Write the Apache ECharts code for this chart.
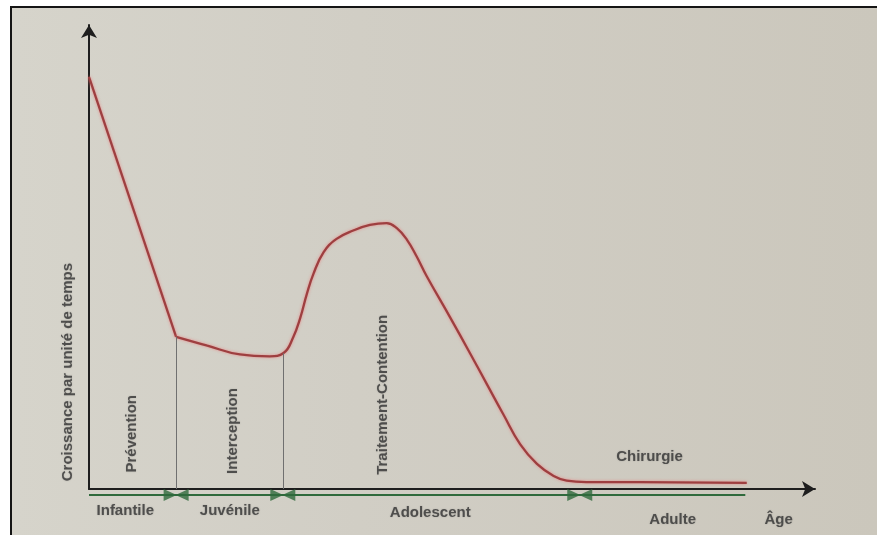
<!DOCTYPE html>
<html><head><meta charset="utf-8">
<script src="https://cdn.jsdelivr.net/npm/echarts@6/dist/echarts.min.js"></script>
<style>
html,body{margin:0;padding:0;background:#fff;width:877px;height:535px;overflow:hidden}
#frame{position:absolute;left:10px;top:6px;width:867px;height:529px;border-top:2px solid #151515;border-left:2px solid #151515;box-sizing:border-box;background:linear-gradient(90deg,#d6d4cb 0%,#d1cec5 40%,#cbc7bc 100%)}
#chart{width:865px;height:527px}
</style></head><body><div id="frame"><div id="chart"></div></div>
<script>
// Age (relative units along the x axis) and growth per unit of time
const ageX   = [0, 12.0, 16.3, 20.8, 24.9, 26.8, 28.1, 29.1, 30.0, 30.9, 32.3, 34.1, 36.4, 38.7, 41.0, 42.4, 43.8, 45.1, 46.5, 49.7, 52.5, 54.8, 57.1, 59.4, 61.7, 64.0, 65.8, 68.5, 71.8, 90.6];
const growth = [88.8, 32.8, 30.9, 29.0, 28.6, 29.3, 32.6, 36.9, 42.0, 46.3, 51.0, 53.9, 55.7, 56.9, 57.3, 56.2, 53.7, 50.2, 45.9, 37.1, 29.2, 22.6, 16.0, 9.6, 5.4, 2.8, 1.8, 1.5, 1.5, 1.3];
const stageNames = ['Infantile', 'Juvénile', 'Adolescent', 'Adulte'];
const treatmentNames = ['Prévention', 'Interception', 'Traitement-Contention', 'Chirurgie'];
const stageBoundaries = [12.0, 26.7, 67.6];
const yAxisTitle = 'Croissance par unité de temps';
const xAxisTitle = 'Âge';

function growthAt(x) {
  for (let i = 0; i < ageX.length - 1; i++) {
    if (x >= ageX[i] && x <= ageX[i + 1]) {
      const t = (x - ageX[i]) / (ageX[i + 1] - ageX[i]);
      return growth[i] + t * (growth[i + 1] - growth[i]);
    }
  }
  return 0;
}

const pts = ageX.map((x, i) => [x, growth[i]]);
const redStyle = { color: '#9e3f40', width: 2.3, shadowColor: 'rgba(235,125,125,0.85)', shadowBlur: 3 };
const textStyle = { color: '#363636', fontWeight: 'bold', fontSize: 15, fontFamily: 'Liberation Sans, Arial, sans-serif',
  textShadowColor: 'rgba(60,60,60,0.35)', textShadowBlur: 1.5 };
const stageLineY = -1.3;
const green = '#2f6a3c';

// label anchors (layout)
const treatmentPos = [[5.9, 11.9, 90], [19.8, 12.5, 90], [40.5, 20.3, 90], [77.2, 6.9, 0]];
const stagePos = [[5.0, -4.7], [19.4, -4.7], [47.0, -5.2], [80.4, -6.7]];
const labelData = [];
treatmentNames.forEach((n, i) => labelData.push({ value: [treatmentPos[i][0], treatmentPos[i][1]], name: n, label: { rotate: treatmentPos[i][2] } }));
stageNames.forEach((n, i) => labelData.push({ value: stagePos[i], name: n, label: { rotate: 0 } }));
labelData.push({ value: [95.0, -6.7], name: xAxisTitle, label: { rotate: 0 } });
labelData.push({ value: [-2.9, 25.2], name: yAxisTitle, label: { rotate: 90 } });

const chart = echarts.init(document.getElementById('chart'));
chart.setOption({
  animation: false,
  grid: { left: 77, right: 62, top: 17, bottom: 46 },
  xAxis: {
    type: 'value', min: 0, max: 100,
    axisLine: { show: true, symbol: ['none', 'arrow'], symbolSize: [12, 13], lineStyle: { color: '#1e1e1e', width: 2 } },
    axisTick: { show: false }, axisLabel: { show: false }, splitLine: { show: false }
  },
  yAxis: {
    type: 'value', min: 0, max: 100,
    axisLine: { show: true, symbol: ['none', 'arrow'], symbolSize: [12, 13], lineStyle: { color: '#1e1e1e', width: 2 } },
    axisTick: { show: false }, axisLabel: { show: false }, splitLine: { show: false }
  },
  series: [
    {
      type: 'line', name: 'stages', data: [[0, stageLineY], [ageX[ageX.length - 1] - 0.2, stageLineY]],
      symbol: 'none', clip: false, lineStyle: { color: green, width: 2 }, z: 1
    },
    {
      type: 'scatter', name: 'bowL', data: stageBoundaries.map(b => [b, stageLineY]), clip: false,
      symbol: 'triangle', symbolSize: [12, 13], symbolRotate: -90, symbolOffset: [-6, 0],
      itemStyle: { color: green }, z: 3
    },
    {
      type: 'scatter', name: 'bowR', data: stageBoundaries.map(b => [b, stageLineY]), clip: false,
      symbol: 'triangle', symbolSize: [12, 13], symbolRotate: 90, symbolOffset: [6, 0],
      itemStyle: { color: green }, z: 3
    },
    {
      type: 'line', name: 'descent', data: pts.slice(0, 2), smooth: false, symbol: 'none',
      lineStyle: redStyle, z: 4
    },
    {
      type: 'line', name: 'growth', data: pts.slice(1), smooth: 0.45, symbol: 'none',
      lineStyle: redStyle, z: 4,
      markLine: {
        silent: true, symbol: ['none', 'none'], label: { show: false },
        lineStyle: { color: '#707070', width: 1, type: 'solid' },
        data: stageBoundaries.slice(0, 2).map(b => [{ coord: [b, 0] }, { coord: [b, growthAt(b)] }])
      }
    },
    {
      type: 'scatter', name: 'labels', data: labelData, clip: false, symbolSize: 0, silent: true,
      label: {
        show: true, position: 'inside', align: 'center', verticalAlign: 'middle',
        formatter: p => p.name, ...textStyle
      }
    }
  ]
});
</script></body></html>
